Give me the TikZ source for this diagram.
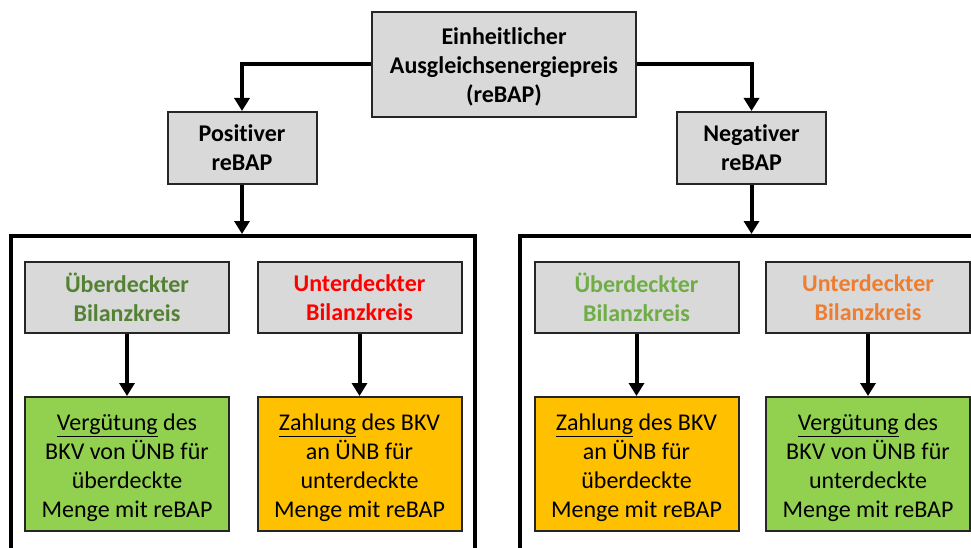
\documentclass[tikz,border=0pt]{standalone}
\usepackage{fontspec}
\setmainfont{Carlito}[Ligatures=CommonOff]
\usetikzlibrary{arrows.meta}
\definecolor{boxgray}{HTML}{D9D9D9}
\definecolor{dgreen}{HTML}{548235}
\definecolor{lgreen}{HTML}{70AD47}
\definecolor{tred}{HTML}{FF0000}
\definecolor{torange}{HTML}{ED7D31}
\definecolor{fgreen}{HTML}{92D050}
\definecolor{forange}{HTML}{FFC000}
\newcommand{\lowerA}{\rule{0pt}{22pt}}
\newcommand{\lowerB}{\rule{0pt}{24pt}}
\tikzset{
  graybox/.style={draw=black!85, line width=2pt, fill=boxgray, align=center, inner sep=0pt,
    font=\fontsize{24}{29}\selectfont\bfseries},
  headbox/.style={graybox, minimum width=204pt, minimum height=71pt},
  resbox/.style={draw=black!85, line width=2pt, align=center, inner sep=0pt,
    minimum width=204pt, minimum height=134pt, font=\fontsize{24}{29}\selectfont},
  frame/.style={draw=black, line width=4pt, minimum width=464pt, minimum height=364pt, inner sep=0pt},
  arr/.style={line width=4pt, -{Triangle[width=15pt,length=13pt]}}
}
\begin{document}
\begin{tikzpicture}[x=1pt,y=-1pt]
\path[use as bounding box, clip] (0,0) rectangle (971,548);
\fill[white] (0,0) rectangle (971,548);
% top level
\node[graybox, minimum width=264pt, minimum height=105pt] (top) at (504,64.5)
  {\lowerA Einheitlicher\\Ausgleichsenergiepreis\\(reBAP)};
\node[graybox, minimum width=149pt, minimum height=72pt] (pos) at (242,148) {Positiver\\reBAP};
\node[graybox, minimum width=149pt, minimum height=72pt] (neg) at (751.5,148) {Negativer\\reBAP};
% frames
\node[frame] (fl) at (242.5,418) {};
\node[frame] (fr) at (751.5,418) {};
% left panel
\node[headbox] (l1) at (127,297.5) {\textcolor{dgreen}{Überdeckter}\\\textcolor{dgreen}{Bilanzkreis}};
\node[headbox] (l2) at (359.5,297.5) {\textcolor{tred}{Unterdeckter}\\\textcolor{tred}{Bilanzkreis}};
\node[resbox, fill=fgreen] (l3) at (127,464) {\lowerB\underline{Vergütung} des\\BKV von ÜNB für\\überdeckte\\Menge mit reBAP};
\node[resbox, fill=forange] (l4) at (359.5,464) {\lowerB\underline{Zahlung} des BKV\\an ÜNB für\\unterdeckte\\Menge mit reBAP};
% right panel
\node[headbox] (r1) at (636.5,297.5) {\textcolor{lgreen}{Überdeckter}\\\textcolor{lgreen}{Bilanzkreis}};
\node[headbox] (r2) at (868,297.5) {\textcolor{torange}{Unterdeckter}\\\textcolor{torange}{Bilanzkreis}};
\node[resbox, fill=forange] (r3) at (636.5,464) {\lowerB\underline{Zahlung} des BKV\\an ÜNB für\\überdeckte\\Menge mit reBAP};
\node[resbox, fill=fgreen] (r4) at (868,464) {\lowerB\underline{Vergütung} des\\BKV von ÜNB für\\unterdeckte\\Menge mit reBAP};
% connectors
\draw[arr] (top.west) -| (pos.north);
\draw[arr] (top.east) -| (neg.north);
\draw[arr] (pos.south) -- (pos.south |- fl.north);
\draw[arr] (neg.south) -- (neg.south |- fr.north);
\draw[arr] (l1) -- (l3);
\draw[arr] (l2) -- (l4);
\draw[arr] (r1) -- (r3);
\draw[arr] (r2) -- (r4);
\end{tikzpicture}
\end{document}
